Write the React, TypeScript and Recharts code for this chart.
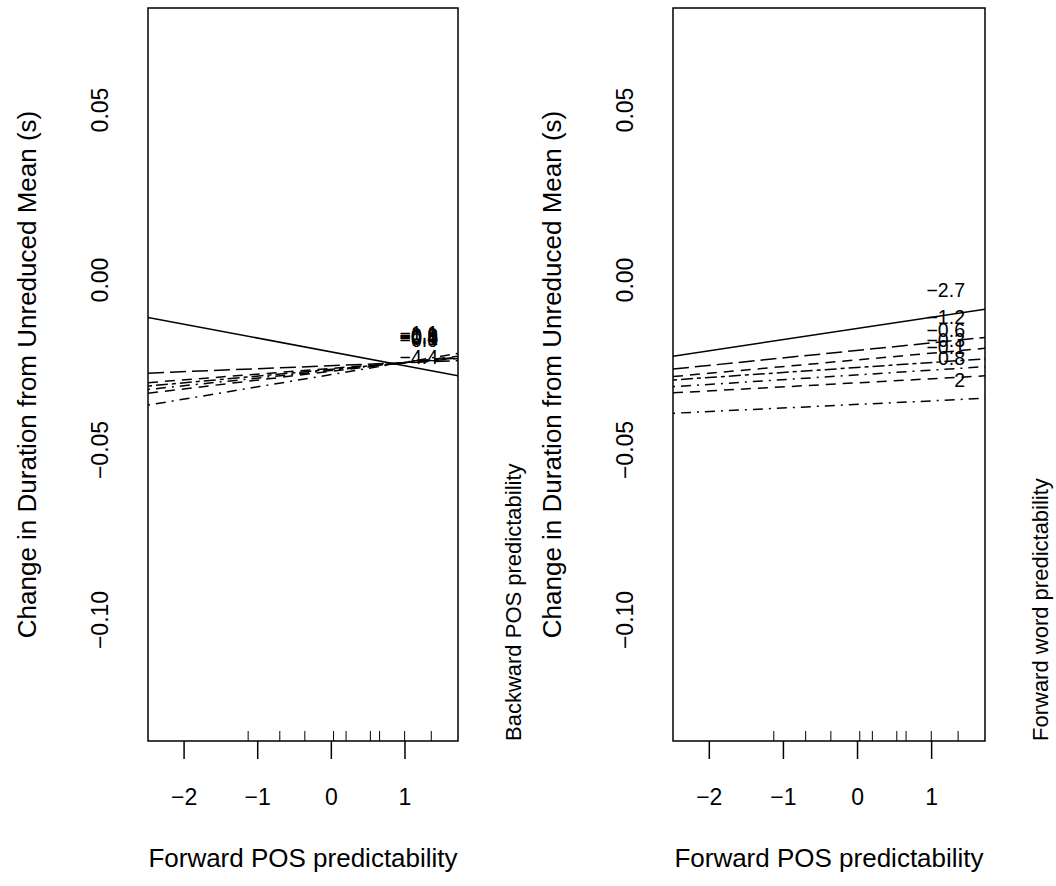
import { ComposedChart, Line, Scatter, XAxis, YAxis, ReferenceArea } from "recharts";

const xTicks = [-2, -1, 0, 1];
const xTickLabels = ["−2", "−1", "0", "1"];
const yTicks = [0.05, 0, -0.05, -0.1];
const yTickLabels = ["0.05", "0.00", "−0.05", "−0.10"];
const xDomain = [-2.49, 1.72];
const yDomain = [-0.1356, 0.08];

// rug of observed x values
const rugX = [-1.13, -0.7, -0.36, 0.03, 0.2, 0.53, 0.655, 0.995, 1.357];

// left panel: one line per level of backward POS predictability
const leftStart = [-0.011, -0.0274, -0.0302, -0.0312, -0.0322, -0.0333, -0.0368];
const leftEnd = [-0.0282, -0.0237, -0.0231, -0.0229, -0.0227, -0.0224, -0.0216];
const leftLabels = ["−4.4", "−1.1", "−0.9", "−0.6", "−0.4", "−0.1", "−0.0"];
const leftLabelY = [-0.0227, -0.0156, -0.0162, -0.0165, -0.0168, -0.0171, -0.0176];

// right panel: one line per level of forward word predictability
const rightStart = [-0.0224, -0.0262, -0.0284, -0.0294, -0.0314, -0.0332, -0.0392];
const rightEnd = [-0.0086, -0.0169, -0.0201, -0.0232, -0.0255, -0.0282, -0.0348];
const rightLabels = ["−2.7", "−1.2", "−0.6", "−0.3", "−0.1", "0.8", "2"];
const rightLabelY = [-0.0029, -0.0109, -0.0147, -0.0176, -0.0197, -0.0229, -0.0294];

const dashes = ["0", "16 6", "10 7", "4 4 12 4", "2 6 10 6", "10 7", "2 6 10 6"];

const FONT = "'Liberation Sans', Arial, sans-serif";

function XTick(props: any) {
  const { x, y, payload } = props;
  const i = xTicks.indexOf(payload.value);
  return (
    <text x={x} y={y + 38} textAnchor="middle" dominantBaseline="central" fontSize={23} fontFamily={FONT} fill="#000">
      {xTickLabels[i]}
    </text>
  );
}

function YTick(props: any) {
  const { x, y, payload } = props;
  const i = yTicks.indexOf(payload.value);
  const cx = x - 48;
  return (
    <text x={cx} y={y} transform={`rotate(-90 ${cx} ${y})`} textAnchor="middle" dominantBaseline="central" fontSize={23} fontFamily={FONT} fill="#000">
      {yTickLabels[i]}
    </text>
  );
}

function RugMark(props: any) {
  const { cx, cy } = props;
  return <line x1={cx} x2={cx} y1={cy} y2={cy - 10} stroke="#000" strokeWidth={1} />;
}

function LevelLabel(props: any) {
  const { cx, cy, payload } = props;
  return (
    <text x={cx} y={cy} textAnchor="end" dominantBaseline="central" fontSize={19.5} fontFamily={FONT} fill="#000">
      {payload.label}
    </text>
  );
}

interface PanelProps {
  left: number;
  marginLeft: number;
  marginRight: number;
  starts: number[];
  ends: number[];
  labels: string[];
  labelY: number[];
  sideTitle: string;
}

function Panel({ left, marginLeft, marginRight, starts, ends, labels, labelY, sideTitle }: PanelProps) {
  const rugData = rugX.map((x) => ({ x, y: yDomain[0] }));
  const labelData = labels.map((label, i) => ({ x: 1.45, y: labelY[i], label }));
  return (
    <div style={{ position: "absolute", left, top: 0 }}>
      <ComposedChart width={528} height={886} margin={{ top: 8, right: marginRight, bottom: 45, left: marginLeft }}>
        <XAxis
          type="number"
          dataKey="x"
          domain={xDomain}
          ticks={xTicks}
          interval={0}
          allowDataOverflow
          height={100}
          tickSize={18}
          tickMargin={0}
          axisLine={false}
          tickLine={{ stroke: "#000", strokeWidth: 1.5 }}
          tick={<XTick />}
          label={{
            content: ({ viewBox }: any) => (
              <text x={viewBox.x + viewBox.width / 2} y={viewBox.y + 117} textAnchor="middle" dominantBaseline="central" fontSize={26} fontFamily={FONT} fill="#000">
                Forward POS predictability
              </text>
            ),
          }}
        />
        <YAxis
          type="number"
          dataKey="y"
          domain={yDomain}
          ticks={yTicks}
          interval={0}
          allowDataOverflow
          width={100}
          tickSize={0}
          tickMargin={0}
          axisLine={false}
          tickLine={false}
          tick={<YTick />}
          label={{
            content: ({ viewBox }: any) => {
              const cx = viewBox.x - 21;
              const cy = viewBox.y + viewBox.height / 2;
              return (
                <text x={cx} y={cy} transform={`rotate(-90 ${cx} ${cy})`} textAnchor="middle" dominantBaseline="central" fontSize={26} fontFamily={FONT} fill="#000">
                  Change in Duration from Unreduced Mean (s)
                </text>
              );
            },
          }}
        />
        {starts.map((s, i) => (
          <Line
            key={i}
            data={[
              { x: xDomain[0], y: s },
              { x: xDomain[1], y: ends[i] },
            ]}
            dataKey="y"
            type="linear"
            stroke="#000"
            strokeWidth={1.5}
            strokeDasharray={dashes[i]}
            dot={false}
            activeDot={false}
            isAnimationActive={false}
          />
        ))}
        <Scatter data={rugData} dataKey="y" shape={<RugMark />} isAnimationActive={false} />
        <Scatter data={labelData} dataKey="y" shape={<LevelLabel />} isAnimationActive={false} />
        <ReferenceArea
          x1={xDomain[0]}
          x2={xDomain[1]}
          y1={yDomain[0]}
          y2={yDomain[1]}
          fill="none"
          stroke="#000"
          strokeWidth={1.5}
          ifOverflow="visible"
          label={{
            content: ({ viewBox }: any) => {
              const cx = viewBox.x + viewBox.width + 55;
              const cy = viewBox.y + viewBox.height;
              return (
                <text x={cx} y={cy} transform={`rotate(-90 ${cx} ${cy})`} textAnchor="start" dominantBaseline="central" fontSize={22} fontFamily={FONT} fill="#000">
                  {sideTitle}
                </text>
              );
            },
          }}
        />
      </ComposedChart>
    </div>
  );
}

export default function App() {
  return (
    <div style={{ position: "absolute", left: 0, top: 0, width: 1056, height: 886, background: "#fff" }}>
      <Panel
        left={0}
        marginLeft={48}
        marginRight={70}
        starts={leftStart}
        ends={leftEnd}
        labels={leftLabels}
        labelY={leftLabelY}
        sideTitle="Backward POS predictability"
      />
      <Panel
        left={528}
        marginLeft={45}
        marginRight={71}
        starts={rightStart}
        ends={rightEnd}
        labels={rightLabels}
        labelY={rightLabelY}
        sideTitle="Forward word predictability"
      />
    </div>
  );
}
